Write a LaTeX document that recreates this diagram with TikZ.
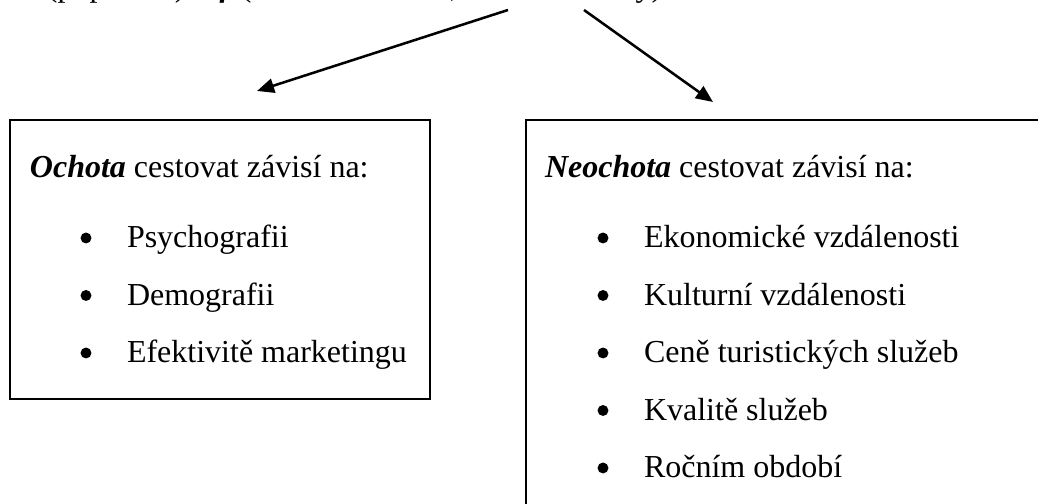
\documentclass[tikz,border=0pt]{standalone}
\usepackage{fontspec}
\setmainfont{Liberation Serif}
\usetikzlibrary{arrows.meta}
\begin{document}
\begin{tikzpicture}[x=0.375pt,y=-0.375pt,
  txt/.style={anchor=base west,inner sep=0pt,outer sep=0pt,font=\fontsize{12pt}{14pt}\selectfont},
  boxline/.style={draw=black,line width=0.75pt},
  arr/.style={draw=black,line width=0.95pt,-{Triangle[length=6.4pt,width=5.4pt]}},
  bulletdot/.style={circle,fill=black,inner sep=0pt,minimum size=4.1pt}]
\useasboundingbox (0,0) rectangle (1038,504);
\clip (0,0) rectangle (1038,504);
% cut-off top line
\node[txt] (top) at (47,-3) {(poptávka) = \textbf{\textit{f}} (ochota cestovat, ostatní faktory)};
% arrows
\coordinate (srcL) at (508,10);
\coordinate (tipL) at (257,91);
\coordinate (srcR) at (584,10);
\coordinate (tipR) at (713,102);
\draw[arr] (srcL) -- (tipL);
\draw[arr] (srcR) -- (tipR);
% boxes
\draw[boxline] (10,120) rectangle (430,399);
\draw[boxline] (526,120) rectangle (1060,540);
% left box
\node[txt] (lh) at (30,178) {\textbf{\textit{Ochota}} cestovat závisí na:};
\node[bulletdot] (lb1) at (86,238) {};
\node[txt] (l1) at (127,248) {Psychografii};
\node[bulletdot] (lb2) at (86,295.5) {};
\node[txt] (l2) at (127,305.5) {Demografii};
\node[bulletdot] (lb3) at (86,353) {};
\node[txt] (l3) at (127,363) {Efektivitě marketingu};
% right box
\node[txt] (rh) at (545,178) {\textbf{\textit{Neochota}} cestovat závisí na:};
\node[bulletdot] (rb1) at (603,238) {};
\node[txt] (r1) at (644,248) {Ekonomické vzdálenosti};
\node[bulletdot] (rb2) at (603,295.5) {};
\node[txt] (r2) at (644,305.5) {Kulturní vzdálenosti};
\node[bulletdot] (rb3) at (603,353) {};
\node[txt] (r3) at (644,363) {Ceně turistických služeb};
\node[bulletdot] (rb4) at (603,410.5) {};
\node[txt] (r4) at (644,420.5) {Kvalitě služeb};
\node[bulletdot] (rb5) at (603,468) {};
\node[txt] (r5) at (644,478) {Ročním období};
\end{tikzpicture}
\end{document}
